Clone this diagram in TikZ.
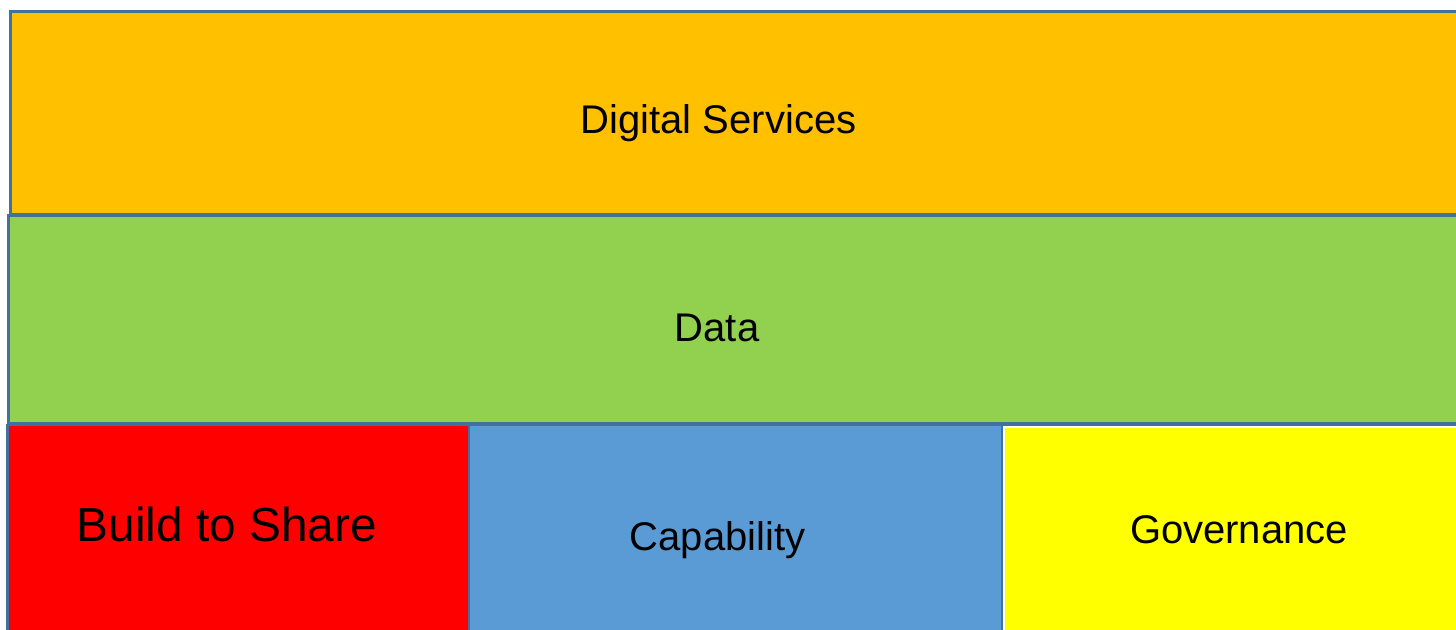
\documentclass[tikz,border=0pt]{standalone}
\usepackage{fontspec}
\setmainfont{Liberation Sans}
\definecolor{edge}{HTML}{41719C}
\definecolor{cOrange}{HTML}{FFC000}
\definecolor{cGreen}{HTML}{92D050}
\definecolor{cRed}{HTML}{FF0000}
\definecolor{cBlue}{HTML}{5B9BD5}
\definecolor{cYellow}{HTML}{FFFF00}
\begin{document}
\begin{tikzpicture}[x=1pt,y=-1pt,
  block/.style={draw=edge,line width=2.8pt},
  lbl/.style={anchor=base,inner sep=0pt,text=black}]
\useasboundingbox (0,0) rectangle (1456,629);
\clip (0,0) rectangle (1456,629);
\fill[white] (0,0) rectangle (1456,629);
\draw[block,fill=cOrange] (10.5,11.5) rectangle (1480,214);
\draw[block,fill=cGreen] (8.5,215.5) rectangle (1480,423);
\draw[block,fill=cRed] (7.5,425) rectangle (469,660);
\draw[block,fill=cBlue] (469,425) rectangle (1002,660);
\draw[draw=edge,line width=2pt] (1002,425) rectangle (1480,660);
\draw[fill=cYellow,draw=white,line width=1.8pt] (1004.5,427.5) rectangle (1480,660);
\node[lbl,font=\fontsize{40}{42}\selectfont] (ds) at (718.5,133) {Digital Services};
\node[lbl,font=\fontsize{40}{42}\selectfont] (da) at (717,341) {Data};
\node[lbl,font=\fontsize{47.8}{50}\selectfont] (bs) at (227,541) {Build to Share};
\node[lbl,font=\fontsize{40}{42}\selectfont] (ca) at (717.5,550) {Capability};
\node[lbl,font=\fontsize{40}{42}\selectfont] (go) at (1239,543) {Governance};
\end{tikzpicture}
\end{document}
